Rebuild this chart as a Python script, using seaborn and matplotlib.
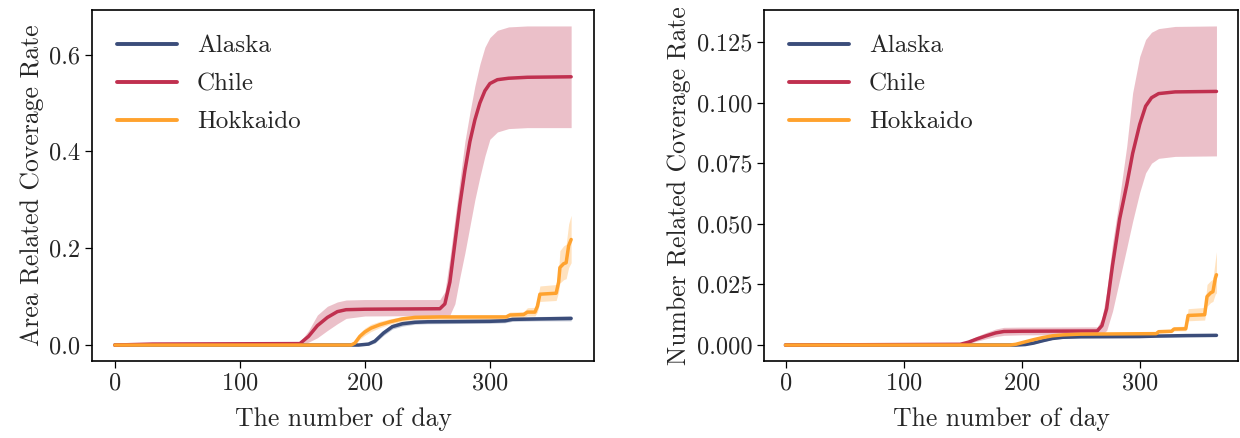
import numpy as np
import pandas as pd
import matplotlib
matplotlib.use("Agg")
import matplotlib.pyplot as plt
import seaborn as sns

sns.set_theme(style="ticks")
plt.rcParams["font.family"] = ["cmr10", "DejaVu Serif"]
plt.rcParams["axes.formatter.use_mathtext"] = True
plt.rcParams["mathtext.fontset"] = "cm"

regions = ["Alaska", "Chile", "Hokkaido"]
colors = {"Alaska": "#3b4d7a", "Chile": "#c0304f", "Hokkaido": "#ffa22e"}

# ---------------- Area related coverage rate ----------------
area_alaska_day = [0, 100, 195, 203, 208, 215, 222, 230, 240, 250, 300, 312, 318, 340, 365]
area_alaska_mean = [0.0, 0.0, 0.0, 0.002, 0.008, 0.025, 0.038, 0.044, 0.047, 0.048, 0.049, 0.050, 0.053, 0.054, 0.055]
area_alaska_lo = [0.0, 0.0, 0.0, 0.0, 0.004, 0.020, 0.033, 0.039, 0.043, 0.044, 0.045, 0.046, 0.049, 0.050, 0.050]
area_alaska_hi = [0.0, 0.0, 0.001, 0.004, 0.012, 0.030, 0.043, 0.049, 0.052, 0.053, 0.054, 0.055, 0.057, 0.059, 0.060]

area_chile_day = [0, 30, 148, 155, 162, 170, 178, 185, 200, 260, 264, 268, 272, 276, 280, 284, 288, 292, 296, 300, 306, 315, 330, 365]
area_chile_mean = [0.0, 0.002, 0.003, 0.018, 0.040, 0.057, 0.069, 0.073, 0.074, 0.075, 0.085, 0.130, 0.210, 0.290, 0.360, 0.420, 0.465, 0.500, 0.525, 0.540, 0.548, 0.551, 0.553, 0.554]
area_chile_lo = [0.0, 0.0, 0.0, 0.006, 0.015, 0.030, 0.044, 0.055, 0.060, 0.061, 0.061, 0.062, 0.085, 0.140, 0.190, 0.245, 0.300, 0.347, 0.390, 0.425, 0.440, 0.447, 0.449, 0.449]
area_chile_hi = [0.0, 0.004, 0.006, 0.030, 0.062, 0.080, 0.089, 0.093, 0.094, 0.094, 0.110, 0.180, 0.260, 0.340, 0.420, 0.480, 0.535, 0.580, 0.615, 0.635, 0.650, 0.657, 0.659, 0.659]

area_hok_day = [0, 100, 189, 192, 196, 200, 205, 212, 220, 230, 240, 260, 313, 316, 327, 330, 336, 338, 340, 353, 355, 356, 359, 361, 363, 365]
area_hok_mean = [0.0, 0.0, 0.0, 0.004, 0.018, 0.027, 0.035, 0.042, 0.048, 0.054, 0.057, 0.058, 0.058, 0.062, 0.063, 0.068, 0.068, 0.080, 0.105, 0.107, 0.130, 0.160, 0.168, 0.170, 0.205, 0.218]
area_hok_lo = [0.0, 0.0, 0.0, 0.001, 0.012, 0.020, 0.028, 0.036, 0.043, 0.049, 0.052, 0.053, 0.053, 0.056, 0.057, 0.060, 0.060, 0.068, 0.090, 0.092, 0.110, 0.128, 0.135, 0.137, 0.160, 0.170]
area_hok_hi = [0.0, 0.0, 0.002, 0.008, 0.025, 0.035, 0.043, 0.049, 0.054, 0.059, 0.062, 0.063, 0.063, 0.068, 0.069, 0.077, 0.078, 0.095, 0.122, 0.125, 0.155, 0.195, 0.205, 0.208, 0.250, 0.268]

# ---------------- Number related coverage rate ----------------
num_alaska_day = [0, 100, 195, 203, 210, 218, 226, 235, 250, 300, 315, 340, 365]
num_alaska_mean = [0.0, 0.0, 0.0, 0.0002, 0.0008, 0.0018, 0.0027, 0.0032, 0.0034, 0.0035, 0.0037, 0.0039, 0.0040]
num_alaska_lo = [0.0, 0.0, 0.0, 0.0, 0.0005, 0.0014, 0.0023, 0.0028, 0.0030, 0.0031, 0.0033, 0.0034, 0.0035]
num_alaska_hi = [0.0, 0.0, 0.0002, 0.0005, 0.0011, 0.0022, 0.0031, 0.0036, 0.0038, 0.0039, 0.0041, 0.0044, 0.0045]

num_chile_day = [0, 148, 155, 162, 170, 178, 185, 200, 264, 268, 272, 277, 283, 289, 294, 300, 305, 310, 316, 330, 365]
num_chile_mean = [0.0, 0.0003, 0.0012, 0.0025, 0.0038, 0.0050, 0.0056, 0.0057, 0.0058, 0.0080, 0.0150, 0.0330, 0.0520, 0.0660, 0.0790, 0.0910, 0.0985, 0.1020, 0.1037, 0.1044, 0.1046]
num_chile_lo = [0.0, 0.0, 0.0006, 0.0016, 0.0026, 0.0035, 0.0040, 0.0042, 0.0043, 0.0045, 0.0060, 0.0140, 0.0270, 0.0400, 0.0510, 0.0630, 0.0710, 0.0750, 0.0770, 0.0778, 0.0780]
num_chile_hi = [0.0, 0.0006, 0.0020, 0.0036, 0.0052, 0.0066, 0.0073, 0.0074, 0.0075, 0.0110, 0.0220, 0.0420, 0.0610, 0.0820, 0.1040, 0.1190, 0.1260, 0.1290, 0.1305, 0.1314, 0.1316]

num_hok_day = [0, 100, 190, 195, 202, 210, 218, 226, 235, 250, 314, 316, 327, 329, 339, 341, 355, 357, 360, 362, 364, 365]
num_hok_mean = [0.0, 0.0, 0.0, 0.0003, 0.0012, 0.0022, 0.0031, 0.0038, 0.0042, 0.0045, 0.0047, 0.0055, 0.0057, 0.0066, 0.0067, 0.0122, 0.0125, 0.0200, 0.0215, 0.0220, 0.0275, 0.0290]
num_hok_lo = [0.0, 0.0, 0.0, 0.0001, 0.0008, 0.0018, 0.0027, 0.0034, 0.0038, 0.0041, 0.0043, 0.0049, 0.0051, 0.0058, 0.0059, 0.0100, 0.0103, 0.0160, 0.0175, 0.0180, 0.0210, 0.0215]
num_hok_hi = [0.0, 0.0, 0.0002, 0.0006, 0.0016, 0.0026, 0.0035, 0.0042, 0.0046, 0.0049, 0.0051, 0.0062, 0.0064, 0.0076, 0.0078, 0.0150, 0.0155, 0.0250, 0.0265, 0.0272, 0.0350, 0.0385]

panels = [
    ("Area Related Coverage Rate", "{x:.1f}",
     {"Alaska": (area_alaska_day, area_alaska_mean, area_alaska_lo, area_alaska_hi),
      "Chile": (area_chile_day, area_chile_mean, area_chile_lo, area_chile_hi),
      "Hokkaido": (area_hok_day, area_hok_mean, area_hok_lo, area_hok_hi)},
     [0.0, 0.2, 0.4, 0.6]),
    ("Number Related Coverage Rate", "{x:.3f}",
     {"Alaska": (num_alaska_day, num_alaska_mean, num_alaska_lo, num_alaska_hi),
      "Chile": (num_chile_day, num_chile_mean, num_chile_lo, num_chile_hi),
      "Hokkaido": (num_hok_day, num_hok_mean, num_hok_lo, num_hok_hi)},
     [0.0, 0.025, 0.05, 0.075, 0.1, 0.125]),
]

fig = plt.figure(figsize=(12.4, 4.38), dpi=100)
axes = [fig.add_axes([0.0742, 0.1758, 0.4048, 0.8014]),
        fig.add_axes([0.6161, 0.1758, 0.3823, 0.8014])]

for ax, (ylabel, fmt, series, yticks) in zip(axes, panels):
    for name in regions:
        d, m, lo, hi = series[name]
        df = pd.DataFrame({"day": d, "value": m})
        ax.fill_between(d, lo, hi, color=colors[name], alpha=0.3, linewidth=0)
        sns.lineplot(data=df, x="day", y="value", ax=ax, color=colors[name],
                     linewidth=2.5, label=name)
    ax.set_xlabel("The number of day", fontsize=18.5, labelpad=9)
    ax.set_ylabel(ylabel, fontsize=18.5, labelpad=4)
    ax.set_xticks([0, 100, 200, 300])
    ax.set_yticks(yticks)
    ax.yaxis.set_major_formatter(matplotlib.ticker.StrMethodFormatter(fmt))
    ax.tick_params(labelsize=17.5, length=5, width=0.9, color="black")
    for s in ax.spines.values():
        s.set_edgecolor("black")
        s.set_linewidth(1.2)
    leg = ax.legend(loc="upper left", frameon=False, fontsize=18,
                    handlelength=2.4, handletextpad=0.8, labelspacing=0.62,
                    borderaxespad=0.6)
    for h in leg.get_lines():
        h.set_linewidth(2.8)

fig.savefig("out.png", dpi=100)
